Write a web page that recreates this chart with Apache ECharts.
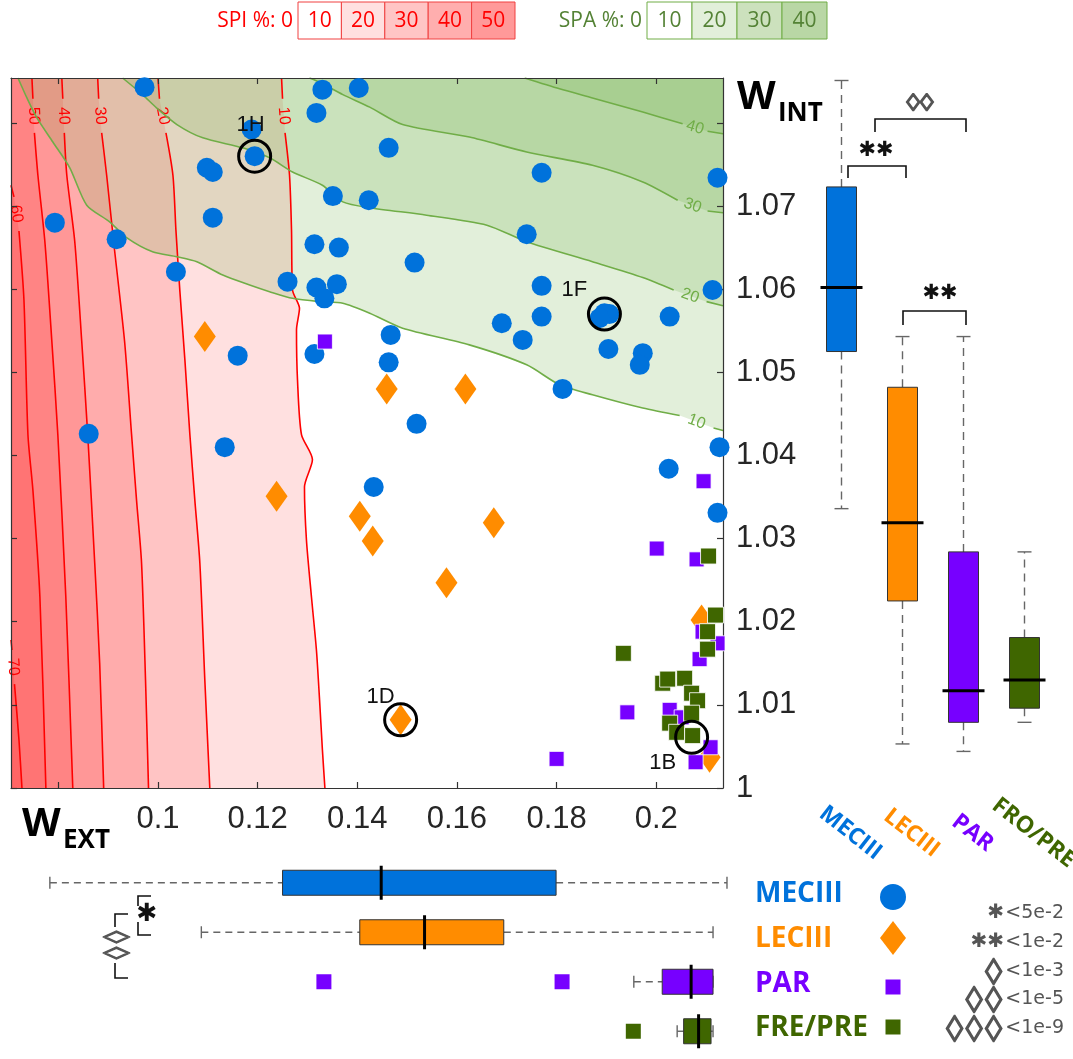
<!DOCTYPE html>
<html>
<head>
<meta charset="utf-8">
<script src="https://cdn.jsdelivr.net/npm/echarts@6/dist/echarts.min.js"></script>
<style>
  html, body { margin: 0; padding: 0; background: #fff; }
  #chart { width: 1073px; height: 1059px; }
</style>
</head>
<body>
<div id="chart"></div>
<script>
// ---------- axes ----------
const xRange = [0.0705, 0.2134];
const yRange = [1.0, 1.0854];
const xTicks = [0.08, 0.10, 0.12, 0.14, 0.16, 0.18, 0.20];
const xTickLabels = [0.10, 0.12, 0.14, 0.16, 0.18, 0.20];
const yTicks = [1.00, 1.01, 1.02, 1.03, 1.04, 1.05, 1.06, 1.07, 1.08];
const yTickLabels = [1.00, 1.01, 1.02, 1.03, 1.04, 1.05, 1.06, 1.07];

// ---------- groups ----------
const groups = ['MECIII', 'LECIII', 'PAR', 'FRE/PRE'];
const boxGroups = ['MECIII', 'LECIII', 'PAR', 'FRO/PRE'];

// ---------- samples: [W_EXT, W_INT] ----------
const mec = [
  [0.0973,1.0843],[0.1330,1.0840],[0.1403,1.0842],[0.1318,1.0812],[0.1188,1.0792],
  [0.1194,1.0760],[0.1098,1.0746],[0.1110,1.0741],[0.1351,1.0712],[0.1423,1.0707],
  [0.1110,1.0686],[0.0793,1.0680],[0.0917,1.0660],[0.1314,1.0654],[0.1363,1.0650],
  [0.1036,1.0621],[0.1260,1.0609],[0.1318,1.0602],[0.1334,1.0589],[0.1359,1.0606],
  [0.1160,1.0520],[0.1314,1.0522],[0.0861,1.0426],[0.1463,1.0770],[0.1770,1.0740],
  [0.2123,1.0734],[0.1740,1.0666],[0.1515,1.0632],[0.1770,1.0604],[0.2113,1.0599],
  [0.1690,1.0559],[0.1770,1.0567],[0.1896,1.0571],[0.1906,1.0570],[0.1886,1.0565],
  [0.2027,1.0567],[0.1732,1.0539],[0.1467,1.0545],[0.1904,1.0528],[0.1973,1.0523],
  [0.1967,1.0509],[0.1463,1.0512],[0.1812,1.0480],[0.1519,1.0438],[0.1433,1.0362],
  [0.2025,1.0384],[0.2127,1.0410],[0.2123,1.0331],[0.1134,1.0410]
];
const lec = [
  [0.1094,1.0543],[0.1459,1.0480],[0.1617,1.0480],[0.1238,1.0351],[0.1405,1.0327],
  [0.1674,1.0319],[0.1431,1.0297],[0.1579,1.0247],[0.1487,1.0082],[0.2091,1.0202],
  [0.2107,1.0037]
];
const par = [
  [0.1335,1.0537],[0.2095,1.0369],[0.2001,1.0288],[0.2081,1.0275],[0.2093,1.0188],
  [0.2123,1.0174],[0.2087,1.0155],[0.1800,1.0035],[0.1942,1.0091],[0.2027,1.0094],
  [0.2051,1.0085],[0.2109,1.0049],[0.2079,1.0031]
];
const frePre = [
  [0.2105,1.0279],[0.2119,1.0208],[0.2103,1.0188],[0.2103,1.0167],[0.1934,1.0162],
  [0.2013,1.0126],[0.2023,1.0131],[0.2057,1.0132],[0.2071,1.0114],[0.2083,1.0105],
  [0.2071,1.0090],[0.2027,1.0078],[0.2041,1.0067],[0.2073,1.0063]
];
const highlightNames = ['1H', '1F', '1D', '1B'];
const highlightValues = [[0.1194,1.0760],[0.1896,1.0570],[0.1487,1.0082],[0.2071,1.0061]];

// ---------- SPI contours (null = gap for the level label) ----------
const spiLevels = [10, 20, 30, 40, 50, 60, 70];
const spiLines = [
  [[0.1248,1.0854],[0.1250,1.0829],null,[0.1255,1.0788],[0.1264,1.0737],[0.1268,1.0671],[0.1270,1.0599],
   [0.1284,1.0577],[0.1278,1.0551],[0.1280,1.0491],[0.1288,1.0425],[0.1310,1.0395],[0.1294,1.0362],
   [0.1298,1.0298],[0.1308,1.0230],[0.1318,1.0166],[0.1324,1.0109],[0.1330,1.0046],[0.1335,1.0000]],
  [[0.1000,1.0854],[0.1003,1.0829],null,[0.1016,1.0788],[0.1030,1.0737],[0.1036,1.0671],[0.1044,1.0597],
   [0.1054,1.0515],[0.1064,1.0425],[0.1074,1.0346],[0.1084,1.0271],[0.1094,1.0130],[0.1104,1.0000]],
  [[0.0879,1.0854],[0.0881,1.0829],null,[0.0887,1.0788],[0.0897,1.0737],[0.0911,1.0657],[0.0933,1.0537],
   [0.0947,1.0425],[0.0957,1.0346],[0.0967,1.0271],[0.0975,1.0130],[0.0981,1.0000]],
  [[0.0807,1.0854],[0.0809,1.0829],null,[0.0812,1.0788],[0.0817,1.0737],[0.0833,1.0657],[0.0847,1.0537],
   [0.0859,1.0425],[0.0873,1.0271],[0.0883,1.0150],[0.0891,1.0000]],
  [[0.0747,1.0854],[0.0749,1.0829],null,[0.0752,1.0788],[0.0759,1.0737],[0.0773,1.0657],[0.0787,1.0537],
   [0.0799,1.0425],[0.0815,1.0230],[0.0829,1.0000]],
  [[0.0705,1.0725],[0.0711,1.0711],null,[0.0721,1.0670],[0.0731,1.0587],[0.0739,1.0425],[0.0749,1.0358],
   [0.0763,1.0230],[0.0775,1.0000]],
  [[0.0705,1.0178],[0.0707,1.0166],null,[0.0712,1.0125],[0.0721,1.0058],[0.0727,1.0000]]
];

// ---------- SPA contours ----------
const spaLevels = [10, 20, 30, 40];
const spaLines = [
  [[0.0719,1.0854],[0.0737,1.0830],[0.0757,1.0806],[0.0789,1.0777],[0.0823,1.0746],[0.0857,1.0701],
   [0.0903,1.0681],[0.0937,1.0662],[0.0989,1.0645],[0.1038,1.0639],[0.1078,1.0633],[0.1130,1.0617],
   [0.1184,1.0605],[0.1224,1.0597],[0.1270,1.0589],[0.1324,1.0585],[0.1371,1.0583],[0.1425,1.0571],
   [0.1491,1.0553],[0.1625,1.0533],[0.1740,1.0509],[0.1806,1.0485],[0.1872,1.0473],[0.1973,1.0457],
   [0.2047,1.0448],null,[0.2115,1.0433],[0.2134,1.0430]],
  [[0.0929,1.0854],[0.0969,1.0834],[0.0997,1.0818],[0.1038,1.0798],[0.1090,1.0782],[0.1170,1.0770],
   [0.1224,1.0758],[0.1270,1.0741],[0.1330,1.0725],[0.1371,1.0705],[0.1425,1.0698],[0.1539,1.0689],
   [0.1660,1.0677],[0.1740,1.0657],[0.1872,1.0633],[0.1973,1.0614],[0.2035,1.0599],null,
   [0.2101,1.0585],[0.2134,1.0580]],
  [[0.1304,1.0854],[0.1324,1.0849],[0.1371,1.0834],[0.1425,1.0819],[0.1491,1.0798],[0.1625,1.0783],
   [0.1740,1.0765],[0.1872,1.0749],[0.1973,1.0729],[0.2043,1.0707],null,[0.2103,1.0694],[0.2134,1.0692]],
  [[0.1736,1.0854],[0.1806,1.0841],[0.1872,1.0830],[0.1973,1.0813],[0.2053,1.0799],null,
   [0.2103,1.0790],[0.2134,1.0787]]
];

// ---------- box statistics: [min, q1, median, q3, max] ----------
const wIntStats = [
  [1.0336, 1.0525, 1.0602, 1.0723, 1.0851],
  [1.0053, 1.0225, 1.0319, 1.0482, 1.0543],
  [1.0044, 1.0079, 1.0117, 1.0284, 1.0543],
  [1.0079, 1.0096, 1.0130, 1.0181, 1.0284]
];
const wExtStats = [
  [0.0783, 0.1250, 0.1448, 0.1799, 0.2142],
  [0.1087, 0.1405, 0.1535, 0.1694, 0.2114],
  [0.1955, 0.2012, 0.2070, 0.2114, 0.2114],
  [0.2042, 0.2055, 0.2085, 0.2110, 0.2114]
];
const wExtOutliers = [[0.1333, 'PAR'], [0.1811, 'PAR'], [0.1954, 'FRE/PRE']];

// ---------- significance keys ----------
const sigSymbols = ['✱', '✱✱', '◊', '◊◊', '◊◊◊'];
const sigThresholds = ['<5e-2', '<1e-2', '<1e-3', '<1e-5', '<1e-9'];

// ---------- styling ----------
const groupColors = ['#0072DB', '#FF8C00', '#7700FF', '#3F6600'];
const RED = [255, 0, 0], RED_A = 0.12;
const GREEN = [112, 173, 71], GREEN_A = 0.2;
const rgba = (c, a) => `rgba(${c[0]},${c[1]},${c[2]},${a})`;
function layered(c, a, n) {
  const f = 1 - Math.pow(1 - a, n);
  return `rgb(${Math.round(255 - f * (255 - c[0]))},${Math.round(255 - f * (255 - c[1]))},${Math.round(255 - f * (255 - c[2]))})`;
}

const chart = echarts.init(document.getElementById('chart'), null, { renderer: 'canvas' });

// region "greater than level": red -> left of line, green -> above line
function fillSeries(lines, color, side, z) {
  return {
    type: 'custom', xAxisIndex: 0, yAxisIndex: 0, z: z, silent: true,
    data: lines.map((_, i) => [i]),
    renderItem(params, api) {
      const pts = lines[params.dataIndex].filter(p => p);
      const first = pts[0];
      const closing = [];
      if (side === 'left') {
        closing.push([xRange[0], yRange[0]]);
        if (first[1] >= yRange[1] - 1e-6) closing.push([xRange[0], yRange[1]]);
      } else {
        closing.push([xRange[1], yRange[1]]);
        if (first[0] <= xRange[0] + 1e-6) closing.push([xRange[0], yRange[1]]);
      }
      const poly = pts.concat(closing).map(p => api.coord(p));
      return { type: 'polygon', shape: { points: poly }, style: { fill: color } };
    }
  };
}

function lineSeries(pts, color) {
  return {
    type: 'line', xAxisIndex: 0, yAxisIndex: 0, z: 2, silent: true,
    showSymbol: false, symbol: 'none', smooth: 0.25, connectNulls: false,
    lineStyle: { color: color, width: 1.6 },
    data: pts.map(p => p ? p : ['-', '-'])
  };
}

function labelSeries(lines, levels, color) {
  return {
    type: 'custom', xAxisIndex: 0, yAxisIndex: 0, z: 2, silent: true,
    data: lines.map((_, i) => [i]),
    renderItem(params, api) {
      const pts = lines[params.dataIndex];
      const g = pts.indexOf(null);
      const a = api.coord(pts[g - 1]), b = api.coord(pts[g + 1]);
      const ang = Math.atan2(b[1] - a[1], b[0] - a[0]);
      return {
        type: 'text', x: (a[0] + b[0]) / 2, y: (a[1] + b[1]) / 2, rotation: -ang,
        style: { text: String(levels[params.dataIndex]), fill: color, fontSize: 16,
                 fontFamily: 'Liberation Sans', align: 'center', verticalAlign: 'middle' }
      };
    }
  };
}

function renderVBox(params, api) {
  const i = api.value(0);
  const ys = [1, 2, 3, 4, 5].map(d => api.coord([i, api.value(d)])[1]);
  const cx = api.coord([i, api.value(1)])[0];
  const half = 15, medHalf = 21, capHalf = 7;
  const dash = { stroke: '#666', lineWidth: 1.4, lineDash: [8, 6] };
  const solid = { stroke: '#666', lineWidth: 1.4 };
  return { type: 'group', children: [
    { type: 'line', shape: { x1: cx, y1: ys[3], x2: cx, y2: ys[4] }, style: dash },
    { type: 'line', shape: { x1: cx, y1: ys[1], x2: cx, y2: ys[0] }, style: dash },
    { type: 'line', shape: { x1: cx - capHalf, y1: ys[4], x2: cx + capHalf, y2: ys[4] }, style: solid },
    { type: 'line', shape: { x1: cx - capHalf, y1: ys[0], x2: cx + capHalf, y2: ys[0] }, style: solid },
    { type: 'rect', shape: { x: cx - half, y: ys[3], width: 2 * half, height: ys[1] - ys[3] },
      style: { fill: groupColors[i], stroke: '#333', lineWidth: 1 } },
    { type: 'line', shape: { x1: cx - medHalf, y1: ys[2], x2: cx + medHalf, y2: ys[2] },
      style: { stroke: '#000', lineWidth: 3 } }
  ] };
}

function renderHBox(params, api) {
  const row = api.value(5);
  const xs = [0, 1, 2, 3, 4].map(d => api.coord([api.value(d), row])[0]);
  const cy = api.coord([api.value(0), row])[1];
  const half = 12.5, medHalf = 17, capHalf = 6;
  const dash = { stroke: '#666', lineWidth: 1.4, lineDash: [7, 5] };
  const solid = { stroke: '#666', lineWidth: 1.4 };
  return { type: 'group', children: [
    { type: 'line', shape: { x1: xs[0], y1: cy, x2: xs[1], y2: cy }, style: dash },
    { type: 'line', shape: { x1: xs[3], y1: cy, x2: xs[4], y2: cy }, style: dash },
    { type: 'line', shape: { x1: xs[0], y1: cy - capHalf, x2: xs[0], y2: cy + capHalf }, style: solid },
    { type: 'line', shape: { x1: xs[4], y1: cy - capHalf, x2: xs[4], y2: cy + capHalf }, style: solid },
    { type: 'rect', shape: { x: xs[1], y: cy - half, width: xs[3] - xs[1], height: 2 * half },
      style: { fill: groupColors[row], stroke: '#333', lineWidth: 1 } },
    { type: 'line', shape: { x1: xs[2], y1: cy - medHalf, x2: xs[2], y2: cy + medHalf },
      style: { stroke: '#000', lineWidth: 3 } }
  ] };
}

// slanted group names under the W_INT boxes
function renderGroupName(params, api) {
  const i = api.value(0);
  const p = api.coord([i, api.value(1)]);
  return {
    type: 'text', x: p[0] + 9, y: p[1] + 45, rotation: -38 * Math.PI / 180,
    style: { text: boxGroups[i], fill: groupColors[i], fontFamily: 'Open Sans', fontWeight: 'bold',
             fontSize: 23, align: 'center', verticalAlign: 'middle' }
  };
}

const axisDark = { color: '#333', width: 1.2 };
const tickBase = { show: true, inside: true, length: 6, lineStyle: { color: '#333', width: 1.2 } };
const labelFont = { fontFamily: 'Liberation Sans', fontSize: 31, color: '#262626' };

const series = [
  fillSeries(spiLines, rgba(RED, RED_A), 'left', 1),
  fillSeries(spaLines, rgba(GREEN, GREEN_A), 'above', 1),
  ...spiLines.map(l => lineSeries(l, '#FF0000')),
  ...spaLines.map(l => lineSeries(l, '#70AD47')),
  labelSeries(spiLines, spiLevels, '#FF0000'),
  labelSeries(spaLines, spaLevels, '#70AD47'),
  { type: 'scatter', name: groups[0], xAxisIndex: 0, yAxisIndex: 0, z: 4, silent: true,
    data: mec, symbol: 'circle', symbolSize: 20, itemStyle: { color: groupColors[0], opacity: 1 } },
  { type: 'scatter', name: groups[1], xAxisIndex: 0, yAxisIndex: 0, z: 4, silent: true,
    data: lec, symbol: 'diamond', symbolSize: [22, 31], itemStyle: { color: groupColors[1], opacity: 1 } },
  { type: 'scatter', name: groups[2], xAxisIndex: 0, yAxisIndex: 0, z: 4, silent: true,
    data: par, symbol: 'rect', symbolSize: 15,
    itemStyle: { color: groupColors[2], opacity: 1, borderColor: 'rgba(255,255,255,0.8)', borderWidth: 1 } },
  { type: 'scatter', name: groups[3], xAxisIndex: 0, yAxisIndex: 0, z: 4, silent: true,
    data: frePre, symbol: 'rect', symbolSize: 16,
    itemStyle: { color: groupColors[3], opacity: 1, borderColor: 'rgba(255,255,255,0.85)', borderWidth: 1 } },
  { type: 'scatter', xAxisIndex: 0, yAxisIndex: 0, z: 5, silent: true,
    data: highlightNames.map((n, i) => ({ name: n, value: highlightValues[i] })),
    symbol: 'circle', symbolSize: 32,
    itemStyle: { color: 'rgba(0,0,0,0)', borderColor: '#000', borderWidth: 3, opacity: 1 },
    label: { show: true, formatter: '{b}', fontFamily: 'Liberation Sans', fontSize: 22, color: '#111',
             position: 'inside' },
    labelLayout(p) {
      const off = { '1H': [-4, -31], '1F': [-30, -24], '1D': [-20, -23], '1B': [-29, 26] }[highlightNames[p.dataIndex]];
      return { x: p.rect.x + p.rect.width / 2 + off[0], y: p.rect.y + p.rect.height / 2 + off[1], align: 'center', verticalAlign: 'middle' };
    } },
  { type: 'custom', xAxisIndex: 2, yAxisIndex: 2, z: 3, silent: true,
    data: wIntStats.map((s, i) => [i, ...s]), encode: { x: 0, y: [1, 2, 3, 4, 5] },
    renderItem: renderVBox },
  { type: 'custom', xAxisIndex: 2, yAxisIndex: 2, z: 3, silent: true,
    data: boxGroups.map((_, i) => [i, yRange[0]]), encode: { x: 0, y: 1 },
    renderItem: renderGroupName },
  { type: 'custom', xAxisIndex: 3, yAxisIndex: 3, z: 3, silent: true,
    data: wExtStats.map((s, i) => [...s, i]), encode: { x: [0, 1, 2, 3, 4], y: 5 },
    renderItem: renderHBox },
  { type: 'scatter', xAxisIndex: 3, yAxisIndex: 3, z: 4, silent: true,
    data: wExtOutliers.map(o => ({ value: o, itemStyle: { color: groupColors[groups.indexOf(o[1])], opacity: 1 } })),
    symbol: 'rect', symbolSize: 15 }
];

// ---------- annotations ----------
const graphic = [];
// colour keys
function colorKey(title, levels, x0, boxW, base, alpha, border, textColor) {
  graphic.push({ type: 'text', x: x0 - 5, y: 21, style: { text: title + ': 0', fill: textColor,
    fontFamily: 'Open Sans', fontSize: 21, align: 'right', verticalAlign: 'middle' } });
  levels.forEach((lv, i) => {
    graphic.push({ type: 'rect', shape: { x: x0 + i * boxW, y: 2, width: boxW, height: 37 },
      style: { fill: layered(base, alpha, i), stroke: border, lineWidth: 1 } });
    graphic.push({ type: 'text', x: x0 + i * boxW + boxW / 2, y: 21, style: { text: String(lv), fill: textColor,
      fontFamily: 'Open Sans', fontSize: 21, align: 'center', verticalAlign: 'middle' } });
  });
}
colorKey('SPI %', spiLevels.slice(0, 5), 298, 43.4, RED, RED_A, '#F04040', '#FF0000');
colorKey('SPA %', spaLevels, 647, 45, GREEN, GREEN_A, '#70AD47', '#548235');

// axis titles
function axisTitle(main, sub, x, y) {
  graphic.push({ type: 'text', x: x, y: y, style: { text: main, fill: '#000', fontFamily: 'Open Sans',
    fontWeight: 'bold', fontSize: 40, align: 'left', verticalAlign: 'middle' } });
  graphic.push({ type: 'text', x: x + 41, y: y + 16, style: { text: sub, fill: '#000', fontFamily: 'Open Sans',
    fontWeight: 'bold', fontSize: 26, align: 'left', verticalAlign: 'middle' } });
}
axisTitle('W', 'INT', 737, 98);
axisTitle('W', 'EXT', 22, 825);

// brackets
const bracketStyle = { stroke: '#111', lineWidth: 1.6, fill: null };
const diamondStroke = { stroke: '#555', lineWidth: 1.1 };
function poly(points, style) { graphic.push({ type: 'polyline', shape: { points: points }, style: style || bracketStyle }); }
function txt(t, x, y, size, color, extra, styleExtra) {
  graphic.push(Object.assign({ type: 'text', x: x, y: y, style: Object.assign({ text: t, fill: color, fontFamily: 'DejaVu Sans',
    fontSize: size, align: 'center', verticalAlign: 'middle' }, styleExtra || {}) }, extra || {}));
}
poly([[848, 178], [848, 166], [906, 166], [906, 178]]);
txt(sigSymbols[1], 876, 151, 21, '#111');
poly([[875, 132], [875, 119], [966, 119], [966, 132]]);
txt(sigSymbols[3], 920, 103, 17, '#555', { scaleX: 1.6 }, diamondStroke);
poly([[903, 325], [903, 311], [966, 311], [966, 325]]);
txt(sigSymbols[1], 940, 294, 21, '#111');

poly([[151, 896], [138, 896], [138, 906]]);
poly([[138, 922], [138, 935], [151, 935]]);
txt(sigSymbols[0], 147, 914, 25, '#111');
poly([[128, 914], [115, 914], [115, 927]]);
poly([[115, 963], [115, 978], [128, 978]]);
txt(sigSymbols[2], 117, 937, 25, '#555', { rotation: Math.PI / 2, scaleY: 1.05 }, diamondStroke);
txt(sigSymbols[2], 117, 953, 25, '#555', { rotation: Math.PI / 2, scaleY: 1.05 }, diamondStroke);

// group legend
const legendY = [894, 939, 984, 1028];
groups.forEach((g, i) => {
  graphic.push({ type: 'text', x: 755, y: legendY[i], style: { text: g, fill: groupColors[i],
    fontFamily: 'Open Sans', fontWeight: 'bold', fontSize: 28, align: 'left', verticalAlign: 'middle' } });
});
graphic.push({ type: 'circle', shape: { cx: 893, cy: 897, r: 13 }, style: { fill: groupColors[0] } });
graphic.push({ type: 'polygon', shape: { points: [[893, 921], [906, 938], [893, 955], [880, 938]] }, style: { fill: groupColors[1] } });
graphic.push({ type: 'rect', shape: { x: 885.5, y: 979.5, width: 15, height: 15 }, style: { fill: groupColors[2] } });
graphic.push({ type: 'rect', shape: { x: 885.5, y: 1019.5, width: 15, height: 15 }, style: { fill: groupColors[3] } });

// significance key: threshold text right-aligned, symbols to its left
const sigY = [913, 942, 971, 999, 1028];
sigSymbols.forEach((s, i) => {
  const isDiamond = s.indexOf('◊') >= 0;
  graphic.push({ type: 'text', x: 1064, y: sigY[i], style: { text: sigThresholds[i], fill: '#555',
    fontFamily: 'DejaVu Sans', fontSize: 19, align: 'right', verticalAlign: 'middle' } });
  if (!isDiamond) {
    graphic.push({ type: 'text', x: 1004, y: sigY[i], style: { text: s, fill: '#555', fontFamily: 'DejaVu Sans',
      fontSize: 20, align: 'right', verticalAlign: 'middle' } });
  } else {
    Array.from(s).forEach((ch, k) => {
      graphic.push({ type: 'text', x: 993.5 - k * 19.5, y: sigY[i] + 1, scaleX: 1.3,
        style: { text: ch, fill: '#555', stroke: '#555', lineWidth: 1.2, fontFamily: 'DejaVu Sans',
                 fontSize: 26, align: 'center', verticalAlign: 'middle' } });
    });
  }
});

const option = {
  animation: false,
  backgroundColor: '#fff',
  grid: [
    { left: 11, top: 78, width: 712, height: 710 },
    { left: 811, top: 78, width: 244, height: 710 },
    { left: 11, top: 858, width: 712, height: 198 }
  ],
  xAxis: [
    { gridIndex: 0, type: 'value', position: 'bottom', min: xRange[0], max: xRange[1], z: 3,
      axisLine: { show: true, onZero: false, lineStyle: axisDark },
      axisTick: Object.assign({ customValues: xTicks }, tickBase),
      axisLabel: Object.assign({ show: true, customValues: xTickLabels, margin: 16 }, labelFont),
      splitLine: { show: false } },
    { gridIndex: 0, type: 'value', position: 'top', min: xRange[0], max: xRange[1], z: 3,
      axisLine: { show: true, onZero: false, lineStyle: axisDark },
      axisTick: Object.assign({ customValues: xTicks }, tickBase),
      axisLabel: { show: false }, splitLine: { show: false } },
    { gridIndex: 1, type: 'category', data: boxGroups, show: false },
    { gridIndex: 2, type: 'value', min: xRange[0], max: xRange[1], show: false }
  ],
  yAxis: [
    { gridIndex: 0, type: 'value', position: 'left', min: yRange[0], max: yRange[1], z: 3,
      axisLine: { show: true, onZero: false, lineStyle: axisDark },
      axisTick: Object.assign({ customValues: yTicks }, tickBase),
      axisLabel: { show: false }, splitLine: { show: false } },
    { gridIndex: 0, type: 'value', position: 'right', min: yRange[0], max: yRange[1], z: 3,
      axisLine: { show: true, onZero: false, lineStyle: axisDark },
      axisTick: Object.assign({ customValues: yTicks }, tickBase),
      axisLabel: Object.assign({ show: true, customValues: yTickLabels, margin: 13 }, labelFont),
      splitLine: { show: false } },
    { gridIndex: 1, type: 'value', min: yRange[0], max: yRange[1], show: false },
    { gridIndex: 2, type: 'category', data: groups, inverse: true, show: false }
  ],
  series: series,
  graphic: graphic
};
chart.setOption(option);
</script>
</body>
</html>
